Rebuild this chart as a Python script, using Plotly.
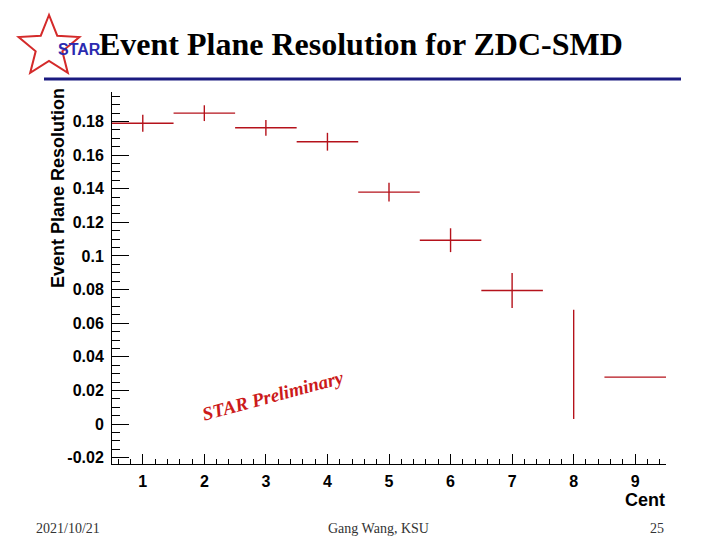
import math
import plotly.graph_objects as go

# ---- data ----
cent = [1, 2, 3, 4, 5, 6, 7, 8, 9]
resolution = [0.179, 0.185, 0.1763, 0.168, 0.138, 0.1094, 0.0795, 0.0355, 0.0279]
resolution_err = [0.005, 0.0047, 0.0047, 0.0053, 0.0056, 0.0071, 0.0104, 0.0325, 0.0]
cent_halfwidth = [0.5, 0.5, 0.5, 0.5, 0.5, 0.5, 0.5, 0.0, 0.5]

y_tickvals = [-0.02, 0, 0.02, 0.04, 0.06, 0.08, 0.1, 0.12, 0.14, 0.16, 0.18]
y_ticktext = ["-0.02", "0", "0.02", "0.04", "0.06", "0.08", "0.1", "0.12", "0.14", "0.16", "0.18"]
x_tickvals = [1, 2, 3, 4, 5, 6, 7, 8, 9]
x_ticktext = ["1", "2", "3", "4", "5", "6", "7", "8", "9"]

# ---- layout geometry (pixels, in the 720x540 window; page body has an 8px margin) ----
OFF = 8
W, H = 720 - OFF, 540 - OFF
PL, PR, PT, PB = 112, 666, 92, 464          # plot area edges in window pixels
L, R, T, B = PL - OFF, W - (PR - OFF), PT - OFF, H - (PB - OFF)
PW, PH = PR - PL, PB - PT


def px(x):
    return (x - PL) / PW


def py(y):
    return (PB - y) / PH


RED = "#b5121b"
SANS = "Liberation Sans"
SERIF = "Liberation Serif"

fig = go.Figure()
fig.add_trace(go.Scatter(
    x=cent, y=resolution, mode="markers",
    marker=dict(size=1, color="rgba(0,0,0,0)"),
    error_x=dict(type="data", array=cent_halfwidth, color=RED, thickness=1.4, width=0),
    error_y=dict(type="data", array=resolution_err, color=RED, thickness=1.4, width=0),
    showlegend=False, hoverinfo="skip", cliponaxis=False,
))

axis_font = dict(family=SANS, size=16, color="black", weight="bold")

fig.update_layout(
    width=W, height=H,
    margin=dict(l=L, r=R, t=T, b=B),
    paper_bgcolor="white", plot_bgcolor="white",
    showlegend=False,
    xaxis=dict(
        range=[0.5, 9.5], showgrid=False, zeroline=False,
        showline=True, linecolor="black", linewidth=1,
        tickmode="array", tickvals=x_tickvals, ticktext=x_ticktext,
        ticks="inside", ticklen=10, tickcolor="black", tickwidth=1,
        tickfont=axis_font, ticklabelstandoff=3,
        minor=dict(tickmode="linear", tick0=0, dtick=0.2, ticks="inside",
                   ticklen=5, tickcolor="black", tickwidth=1, showgrid=False),
    ),
    yaxis=dict(
        range=[-0.0238, 0.1976], showgrid=False, zeroline=False,
        showline=True, linecolor="black", linewidth=1,
        tickmode="array", tickvals=y_tickvals, ticktext=y_ticktext,
        ticks="inside", ticklen=17, tickcolor="black", tickwidth=1,
        tickfont=axis_font, ticklabelstandoff=4,
        minor=dict(tickmode="linear", tick0=0, dtick=0.005, ticks="inside",
                   ticklen=8, tickcolor="black", tickwidth=1, showgrid=False),
    ),
)

annotations = []
# main title
annotations.append(dict(
    text="Event Plane Resolution for ZDC-SMD", xref="paper", yref="paper",
    x=px(361), y=py(44), xanchor="center", yanchor="middle", showarrow=False,
    font=dict(family="Liberation Serif, Times New Roman, serif", size=32,
              color="black", weight="bold"),
))
# y axis title
annotations.append(dict(
    text="Event Plane Resolution", xref="paper", yref="paper",
    x=px(58), y=py(86), xanchor="center", yanchor="top", textangle=-90,
    showarrow=False, font=dict(family=SANS, size=18, color="black", weight="bold"),
))
# x axis title
annotations.append(dict(
    text="Cent", xref="paper", yref="paper",
    x=px(667), y=py(500), xanchor="right", yanchor="middle", showarrow=False,
    font=dict(family=SANS, size=18, color="black", weight="bold"),
))
# STAR Preliminary
annotations.append(dict(
    text="STAR Preliminary", xref="paper", yref="paper",
    x=px(273), y=py(395), xanchor="center", yanchor="middle", textangle=-15,
    showarrow=False,
    font=dict(family=SERIF, size=19, color="#cc1a1a", weight="bold", style="italic"),
))
# STAR logo text
annotations.append(dict(
    text="STAR", xref="paper", yref="paper",
    x=px(79), y=py(49), xanchor="center", yanchor="middle", showarrow=False,
    font=dict(family=SANS, size=16, color="#2b2bb0", weight="bold"),
))
# footer
footer_font = dict(family=SERIF, size=14, color="#333333")
annotations.append(dict(text="2021/10/21", xref="paper", yref="paper",
                        x=px(34), y=py(528), xanchor="left", yanchor="middle",
                        showarrow=False, font=footer_font))
annotations.append(dict(text="Gang Wang, KSU", xref="paper", yref="paper",
                        x=px(378), y=py(528), xanchor="center", yanchor="middle",
                        showarrow=False, font=footer_font))
annotations.append(dict(text="25", xref="paper", yref="paper",
                        x=px(666), y=py(528), xanchor="right", yanchor="middle",
                        showarrow=False, font=footer_font))
fig.update_layout(annotations=annotations)

# decorative star outline of the logo
cx, cy, r_out, r_in = 49, 47, 32, 14
pts = []
for k in range(10):
    ang = math.radians(90 + 36 * k)
    rr = r_out if k % 2 == 0 else r_in
    pts.append((px(cx + rr * math.cos(ang)), py(cy - rr * math.sin(ang))))
path = "M " + " L ".join(f"{a:.5f},{b:.5f}" for a, b in pts) + " Z"

shapes = [
    dict(type="path", path=path, xref="paper", yref="paper",
         line=dict(color="#d42a2a", width=2), fillcolor="rgba(255,255,255,0)", layer="below"),
    dict(type="line", xref="paper", yref="paper", x0=px(44), x1=px(681),
         y0=py(79), y1=py(79), line=dict(color="#1a1a80", width=3)),
]
fig.update_layout(shapes=shapes)

fig.write_html("out.html")
